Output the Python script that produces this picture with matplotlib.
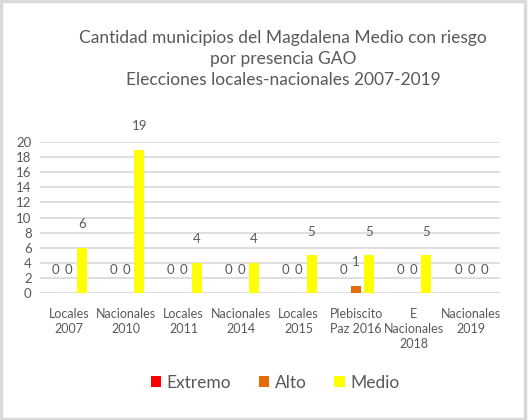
import numpy as np
import matplotlib.pyplot as plt
from matplotlib.patches import Rectangle

categorias = ["Locales\n2007", "Nacionales\n2010", "Locales\n2011", "Nacionales\n2014",
              "Locales\n2015", "Plebiscito\nPaz 2016", "E\nNacionales\n2018", "Nacionales\n2019"]
extremo = [0, 0, 0, 0, 0, 0, 0, 0]
alto = [0, 0, 0, 0, 0, 1, 0, 0]
medio = [6, 19, 4, 4, 5, 5, 5, 0]
series = [("Extremo", extremo, "#ff0000"), ("Alto", alto, "#e46c0a"), ("Medio", medio, "#ffff00")]

plt.rcParams['font.family'] = ['Lato', 'DejaVu Sans']
gris = "#595959"

fig = plt.figure(figsize=(5.29, 4.2), dpi=100)
fig.patches.append(Rectangle((0.002, 0.003), 0.991, 0.994, transform=fig.transFigure,
                             fill=False, edgecolor="#d9d9d9", linewidth=2.5))
ax = fig.add_axes([0.0756, 0.302, 0.869, 0.36])

x = np.arange(len(categorias))
ancho = 0.174
paso = 0.226
for i, (nombre, vals, color) in enumerate(series):
    pos = x + (i - 1) * paso
    ax.bar(pos, vals, width=ancho, color=color, label=nombre, zorder=3)
    for px, v in zip(pos, vals):
        ax.annotate(str(v), (px, v), xytext=(0, 17), textcoords="offset points",
                    ha="center", va="center", fontsize=9.5, color=gris)

ax.set_xlim(-0.5, len(categorias) - 0.5)
ax.set_ylim(0, 20)
ax.set_yticks(range(0, 21, 2))
ax.yaxis.grid(True, color="#d9d9d9", linewidth=1.2, zorder=0)
for s in ax.spines.values():
    s.set_visible(False)
ax.tick_params(axis="both", length=0, labelsize=9.5, labelcolor=gris)
ax.tick_params(axis="x", pad=11, labelsize=9)
ax.set_xticks(x)
ax.set_xticklabels(categorias, va="top", linespacing=1.3)
ax.tick_params(axis="y", pad=6)

fig.text(0.535, 0.86, "Cantidad municipios del Magdalena Medio con riesgo\npor presencia GAO\n"
         "Elecciones locales-nacionales 2007-2019", ha="center", va="center",
         fontsize=12.5, color=gris, linespacing=1.4)

fig.legend(loc="center", bbox_to_anchor=(0.52, 0.088), ncol=3, frameon=False,
           fontsize=12.5, labelcolor=gris, handlelength=0.6, handleheight=0.6,
           handletextpad=0.3, columnspacing=1.6)

fig.savefig("out.png", dpi=100)
